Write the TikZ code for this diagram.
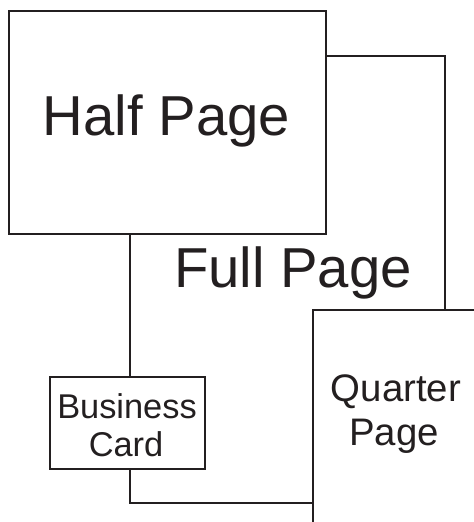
\documentclass[tikz,border=0pt]{standalone}
\usepackage{fontspec}
\setmainfont{Liberation Sans}
\definecolor{ink}{HTML}{231F20}
\tikzset{
  sheet/.style={draw=ink, line width=2bp, fill=white, rectangle, inner sep=0pt, anchor=north west},
  bigtxt/.style={text=ink, inner sep=0pt, anchor=base, font=\fontsize{56.5}{56.5}\selectfont},
  midtxt/.style={text=ink, inner sep=0pt, anchor=base, font=\fontsize{38.5}{38.5}\selectfont},
  smalltxt/.style={text=ink, inner sep=0pt, anchor=base, font=\fontsize{34.5}{34.5}\selectfont}
}
\begin{document}
\begin{tikzpicture}[x=1bp,y=-1bp]
\useasboundingbox (0,0) rectangle (474,522);
\clip (0,0) rectangle (474,522);
\node[sheet, minimum width=315bp, minimum height=447bp] (full) at (129,55) {};
\node[sheet, minimum width=317bp, minimum height=223bp] (half) at (8,10) {};
\node[sheet, minimum width=155bp, minimum height=92bp] (card) at (49,376) {};
\node[sheet, minimum width=200bp, minimum height=260bp] (quarter) at (312,309) {};
\node[bigtxt] (halftxt) at (166.5,136) {Half Page};
\node[bigtxt] (fulltxt) at (293,287) {Full Page};
\node[midtxt] (quartertxt1) at (396,401) {Quarter};
\node[midtxt] (quartertxt2) at (394,445) {Page};
\node[smalltxt] (cardtxt1) at (127,418) {Business};
\node[smalltxt] (cardtxt2) at (126,456) {Card};
\end{tikzpicture}
\end{document}
